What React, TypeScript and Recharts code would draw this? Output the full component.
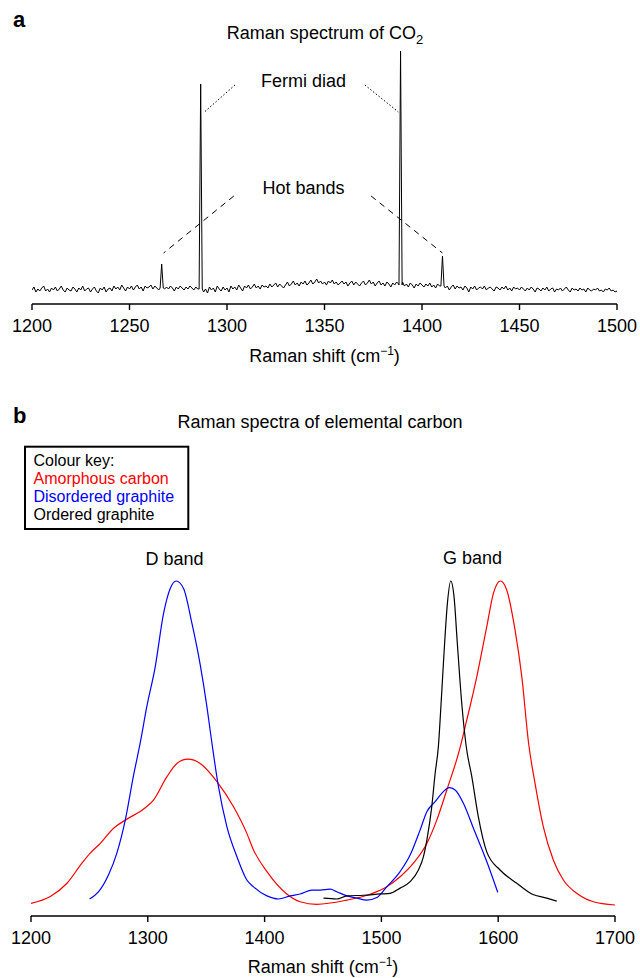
import React from 'react';
import { LineChart, Line, XAxis, YAxis, ReferenceLine, Label } from 'recharts';

const FONT = '"Liberation Sans", Arial, Helvetica, sans-serif';

// ---------- Panel a: Raman spectrum of CO2 ----------
const co2Ticks = [1200, 1250, 1300, 1350, 1400, 1450, 1500];
const co2GridStart = 1200;
const co2GridStep = 1;
// baseline (noise) intensity read every 1 cm-1 from 1200 to 1500
const co2Baseline = [
  14, 17, 12, 15, 13, 16, 18, 13, 15, 12,
  16, 14, 17, 13, 15, 18, 14, 12, 16, 14,
  13, 17, 15, 12, 16, 14, 18, 13, 15, 16,
  12, 15, 17, 13, 11, 16, 14, 17, 12, 15,
  16, 13, 18, 15, 17, 14, 19, 16, 13, 17,
  15, 18, 14, 17, 19, 15, 17, 13, 18, 16,
  17, 19, 15, 18, 16, 14, 17, 18, 15, 17,
  15, 18, 16, 13, 17, 15, 18, 16, 14, 17,
  15, 18, 16, 14, 17, 15, 16, 17, 12, 15,
  11, 17, 14, 16, 12, 18, 15, 13, 17, 14,
  16, 12, 18, 15, 17, 14, 19, 16, 13, 18,
  16, 19, 15, 17, 20, 16, 18, 15, 19, 17,
  18, 16, 20, 17, 19, 21, 17, 20, 18, 16,
  19, 22, 18, 20, 23, 19, 21, 18, 22, 20,
  23, 19, 21, 24, 20, 22, 25, 21, 23, 20,
  22, 19, 23, 21, 24, 20, 22, 19, 21, 23,
  20, 22, 18, 21, 23, 19, 22, 20, 18, 21,
  23, 19, 21, 24, 20, 22, 18, 21, 23, 19,
  21, 18, 22, 20, 17, 21, 19, 22, 20, 19,
  22, 18, 20, 17, 21, 19, 16, 20, 18, 21,
  19, 17, 20, 18, 21, 17, 19, 16, 20, 18,
  17, 19, 16, 18, 14, 17, 19, 15, 18, 16,
  17, 14, 18, 16, 12, 17, 15, 18, 14, 16,
  17, 15, 18, 14, 16, 17, 15, 13, 17, 16,
  14, 17, 15, 18, 14, 16, 13, 17, 15, 16,
  14, 17, 15, 13, 16, 14, 17, 15, 12, 16,
  15, 13, 16, 14, 17, 13, 15, 16, 12, 15,
  14, 16, 13, 15, 17, 14, 12, 16, 14, 15,
  13, 16, 14, 15, 12, 16, 14, 13, 15, 14,
  16, 13, 14, 12, 15, 14, 16, 13, 14, 12,
  13,
];
// sharp peaks: position, top intensity, foot intensity
const co2PeakShift = [1266.5, 1286.5, 1389, 1410.5];
const co2PeakTop = [40, 220, 253, 48];
const co2PeakFoot = [16, 15, 19, 18];

// annotation guide lines (data coordinates)
const fermiGuides = [
  [{ x: 1304.1, y: 219 }, { x: 1288.4, y: 192 }],
  [{ x: 1370.7, y: 219 }, { x: 1387.9, y: 192 }],
];
const hotGuides = [
  [{ x: 1303.5, y: 108 }, { x: 1267.5, y: 51 }],
  [{ x: 1373.9, y: 108 }, { x: 1410.5, y: 51 }],
];

const co2Data = (() => {
  const pts: { x: number; y: number }[] = [];
  co2Baseline.forEach((v, i) => {
    const x = co2GridStart + i * co2GridStep;
    if (co2PeakShift.some((p) => Math.abs(p - x) < 1)) return;
    pts.push({ x, y: v });
  });
  co2PeakShift.forEach((p, i) => {
    pts.push({ x: p - 0.8, y: co2PeakFoot[i] });
    pts.push({ x: p, y: co2PeakTop[i] });
    pts.push({ x: p + 0.8, y: co2PeakFoot[i] });
  });
  return pts.sort((a, b) => a.x - b.x);
})();

// ---------- Panel b: Raman spectra of elemental carbon ----------
const carbonTicks = [1200, 1300, 1400, 1500, 1600, 1700];
const seriesNames = ['Amorphous carbon', 'Disordered graphite', 'Ordered graphite'];
const seriesColors = ['#ff0000', '#0000ff', '#000000'];

const amorphousShift = [1200, 1216.5, 1230.8, 1243.6, 1250.7, 1259.3, 1270.7, 1282.1, 1296.4, 1304.9, 1316.4, 1324.9, 1334.3, 1344.9, 1359.2, 1373.4, 1384.8, 1390.5, 1402, 1419, 1430.4, 1444.7, 1470.4, 1490.3, 1504.6, 1516, 1527.4, 1538.9, 1547.4, 1556, 1566.8, 1573.1, 1581.7, 1590.2, 1595.9, 1601.9, 1607.3, 1614.4, 1620.2, 1626, 1631.5, 1638.6, 1647.2, 1655.8, 1667.2, 1681.4, 1700];
const amorphousInt = [0.005, 0.026, 0.067, 0.129, 0.16, 0.19, 0.237, 0.265, 0.296, 0.324, 0.396, 0.437, 0.45, 0.437, 0.381, 0.303, 0.221, 0.17, 0.103, 0.034, 0.01, 0.002, 0.015, 0.033, 0.056, 0.087, 0.129, 0.19, 0.262, 0.355, 0.478, 0.571, 0.705, 0.859, 0.962, 1.0, 0.972, 0.849, 0.705, 0.5, 0.376, 0.242, 0.139, 0.077, 0.036, 0.01, 0.0];

const disorderedShift = [1250.2, 1257.9, 1266.4, 1273.5, 1280.7, 1287.8, 1293.5, 1299.3, 1306.4, 1313.5, 1319.2, 1324.3, 1330.6, 1337.8, 1344.9, 1350.6, 1354.5, 1360.5, 1367.7, 1376.3, 1384.8, 1390.5, 1402, 1411.9, 1421.9, 1430.4, 1440.5, 1447.6, 1456.1, 1461.8, 1470.4, 1479, 1487.5, 1496.1, 1504.6, 1516, 1524.6, 1533.1, 1538.9, 1546, 1553.1, 1558, 1563.1, 1570.2, 1578.8, 1590.2, 1599.6];
const disorderedInt = [0.0185, 0.041, 0.093, 0.16, 0.262, 0.4, 0.5, 0.615, 0.736, 0.9, 0.977, 1.0, 0.977, 0.869, 0.741, 0.612, 0.51, 0.365, 0.242, 0.149, 0.077, 0.056, 0.028, 0.0185, 0.028, 0.034, 0.046, 0.046, 0.049, 0.041, 0.028, 0.021, 0.015, 0.023, 0.056, 0.103, 0.154, 0.231, 0.288, 0.319, 0.35, 0.362, 0.355, 0.314, 0.237, 0.134, 0.039];

const orderedShift = [1450.4, 1461.8, 1470.4, 1484.6, 1498.9, 1507.5, 1516, 1524.6, 1531.7, 1536, 1538.9, 1543.1, 1546, 1548.8, 1551.1, 1553.6, 1556.5, 1559.4, 1562.2, 1565, 1568.8, 1572.6, 1577.4, 1583, 1590.2, 1601.6, 1615.9, 1628.7, 1641.6, 1650.1];
const orderedInt = [0.021, 0.0185, 0.028, 0.03, 0.034, 0.036, 0.052, 0.072, 0.108, 0.149, 0.2, 0.303, 0.406, 0.49, 0.622, 0.777, 0.931, 1.0, 0.951, 0.808, 0.622, 0.49, 0.396, 0.272, 0.164, 0.108, 0.067, 0.034, 0.021, 0.012];

const zip = (xs: number[], ys: number[]) => xs.map((x, i) => ({ x, y: ys[i] }));
const carbonSeries = [
  zip(amorphousShift, amorphousInt),
  zip(disorderedShift, disorderedInt),
  zip(orderedShift, orderedInt),
];

const tickStyle = { fontSize: 18, fill: '#000', fontFamily: FONT };

const axisTitle = (offset: number) => (props: any) => {
  const vb = props.viewBox || {};
  const cx = vb.x + vb.width / 2;
  const y = vb.y + offset;
  return (
    <text x={cx} y={y} textAnchor="middle" fontSize={18} fontFamily={FONT} fill="#000">
      <tspan>Raman shift (cm</tspan>
      <tspan dy={-7} fontSize={12}>−1</tspan>
      <tspan dy={7}>)</tspan>
    </text>
  );
};

export default function App() {
  return (
    <div style={{ position: 'absolute', left: 0, top: 0, width: 640, height: 978, background: '#fff', fontFamily: FONT }}>
      <div style={{ position: 'absolute', left: 0, top: 0 }}>
        <LineChart width={640} height={372} data={co2Data} margin={{ top: 46, right: 23, left: 32, bottom: 8 }}>
          <XAxis
            dataKey="x"
            type="number"
            domain={[1200, 1500]}
            ticks={co2Ticks}
            allowDataOverflow
            height={60}
            tickSize={6}
            tickMargin={9}
            tick={tickStyle}
            axisLine={{ stroke: '#000', strokeWidth: 1.4 }}
            tickLine={{ stroke: '#000', strokeWidth: 1.4 }}
          >
            <Label content={axisTitle(58)} />
          </XAxis>
          <YAxis hide width={0} type="number" domain={[0, 258]} allowDataOverflow />
          {fermiGuides.map((seg, i) => (
            <ReferenceLine key={'f' + i} segment={seg} stroke="#000" strokeWidth={1} strokeDasharray="1.5 2" ifOverflow="visible" />
          ))}
          {hotGuides.map((seg, i) => (
            <ReferenceLine key={'h' + i} segment={seg} stroke="#000" strokeWidth={1} strokeDasharray="6 5" ifOverflow="visible" />
          ))}
          <Line dataKey="y" type="linear" stroke="#000" strokeWidth={1} dot={false} activeDot={false} isAnimationActive={false} />
        </LineChart>
      </div>

      <div style={{ position: 'absolute', left: 0, top: 380 }}>
        <LineChart width={640} height={598} margin={{ top: 196, right: 25, left: 31, bottom: 0 }}>
          <XAxis
            dataKey="x"
            type="number"
            domain={[1200, 1700]}
            ticks={carbonTicks}
            allowDataOverflow
            height={62}
            tickSize={6}
            tickMargin={9}
            tick={tickStyle}
            axisLine={{ stroke: '#000', strokeWidth: 1.4 }}
            tickLine={{ stroke: '#000', strokeWidth: 1.4 }}
          >
            <Label content={axisTitle(57)} />
          </XAxis>
          <YAxis hide width={0} type="number" domain={[-0.034, 1.0154]} allowDataOverflow />
          {carbonSeries.map((d, i) => (
            <Line
              key={seriesNames[i]}
              data={d}
              dataKey="y"
              name={seriesNames[i]}
              type="monotone"
              stroke={seriesColors[i]}
              strokeWidth={1.2}
              dot={false}
              activeDot={false}
              isAnimationActive={false}
            />
          ))}
        </LineChart>
      </div>

      <svg width={640} height={978} style={{ position: 'absolute', left: 0, top: 0, pointerEvents: 'none' }} fontFamily={FONT}>
        <text x={13} y={27} fontSize={22} fontWeight="bold" fill="#000">a</text>
        <text x={325} y={39} textAnchor="middle" fontSize={18} fill="#000">
          <tspan>Raman spectrum of CO</tspan>
          <tspan dy={5} fontSize={13}>2</tspan>
        </text>
        <text x={303.5} y={86.5} textAnchor="middle" fontSize={18} fill="#000">Fermi diad</text>
        <text x={303.5} y={194} textAnchor="middle" fontSize={18} fill="#000">Hot bands</text>

        <text x={13} y={423} fontSize={22} fontWeight="bold" fill="#000">b</text>
        <text x={320} y={427.5} textAnchor="middle" fontSize={18} fill="#000">Raman spectra of elemental carbon</text>
        <rect x={25} y={446.7} width={163.3} height={82.3} fill="#fff" stroke="#000" strokeWidth={2} />
        <text x={33.5} y={466} fontSize={16} fill="#000">Colour key:</text>
        {seriesNames.map((n, i) => (
          <text key={n} x={33.5} y={484 + i * 18} fontSize={16} fill={seriesColors[i]}>{n}</text>
        ))}
        <text x={174.5} y={565} textAnchor="middle" fontSize={18} fill="#000">D band</text>
        <text x={472.5} y={563.5} textAnchor="middle" fontSize={18} fill="#000">G band</text>
      </svg>
    </div>
  );
}
